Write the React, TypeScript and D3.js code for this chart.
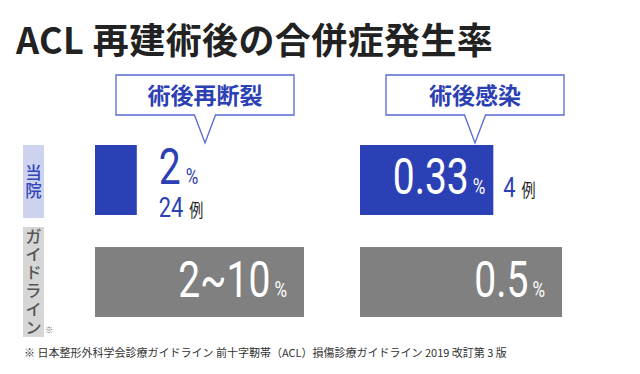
import React from "react";
import * as d3 from "d3";

// complications after ACL reconstruction
const categories = ["術後再断裂", "術後感染"];
const rows = ["当院", "ガイドライン"];
const hospitalValues = [2, 0.33];
const hospitalCases = [24, 4];
const guidelineValues = [10, 0.5];
const guidelineLabels = ["2~10", "0.5"];
const panelMax = [10, 0.5];

const BLUE = "#2c40b5";
const GREY = "#808080";
const NUM_FONT = "Roboto, 'DejaVu Sans', sans-serif";
const JP_FONT = "'Noto Sans CJK JP', 'Noto Sans', sans-serif";
const SQUEEZE = 0.78;

// condensed number + small unit, anchored at (x, y)
function Num({ x, y, value, unit, size, unitSize, fill, anchor = "start", unitFill, unitFont, gap = 4 }: any) {
  return (
    <g transform={`translate(${x},${y}) scale(${SQUEEZE},1)`}>
      <text x={0} y={0} textAnchor={anchor} fontFamily={NUM_FONT} fill={fill}>
        <tspan fontSize={size}>{value}</tspan>
        <tspan fontSize={unitSize} dx={gap / SQUEEZE} fontFamily={unitFont || NUM_FONT} fill={unitFill || fill}>
          {unit}
        </tspan>
      </text>
    </g>
  );
}

export default function App() {
  const width = 640;
  const height = 374;

  const panelX = d3.scaleOrdinal<string, number>().domain(categories).range([95, 360]);
  const panelWidth = [209, 202];
  const bubbleOffset = [110, 115];

  const y = d3.scaleBand().domain(rows).range([145, 317]).paddingInner(0.314).paddingOuter(0);
  const bh = y.bandwidth();

  return (
    <svg width={width} height={height} style={{ position: "absolute", left: 0, top: 0, background: "#fff" }}>
      <text x={16} y={54} fontFamily={JP_FONT} fontWeight={700} fontSize={36} letterSpacing={0.4} fill="#222">
        ACL 再建術後の合併症発生率
      </text>

      {/* row labels, vertical */}
      {rows.map((r, i) => {
        const n = Array.from(r).length;
        const fs = 16.5;
        const ls = 1.7;
        const top = y(r)! + (i === 0 ? 0 : -20);
        const h = i === 0 ? 73 : 110;
        const textTop = top + (h - n * (fs + ls) + ls) / 2;
        return (
          <g key={r}>
            <rect x={23} y={top} width={21} height={h} fill={i === 0 ? "#cdd2ef" : "#d6d6d6"} />
            <text
              x={33.5}
              y={textTop}
              style={{ writingMode: "vertical-rl" }}
              fontFamily={JP_FONT}
              fontWeight={500}
              fontSize={fs}
              letterSpacing={ls}
              fill={i === 0 ? "#3346bb" : "#555"}
            >
              {r}
            </text>
            {i === 1 && (
              <text x={45} y={top + h - 4} fontFamily={JP_FONT} fontSize={8} fill="#555">
                ※
              </text>
            )}
          </g>
        );
      })}

      {categories.map((cat, i) => {
        const x0 = panelX(cat);
        const x = d3.scaleLinear().domain([0, panelMax[i]]).range([0, panelWidth[i]]);
        const cx = x0 + bubbleOffset[i];
        const bw = 178;
        const bTop = 75;
        const bBot = 115;
        const tipY = 143;
        const bubble = d3.path();
        bubble.moveTo(cx - 10.5, bBot);
        bubble.lineTo(cx - bw / 2, bBot);
        bubble.lineTo(cx - bw / 2, bTop);
        bubble.lineTo(cx + bw / 2, bTop);
        bubble.lineTo(cx + bw / 2, bBot);
        bubble.lineTo(cx + 10.5, bBot);
        bubble.lineTo(cx, tipY);
        bubble.closePath();

        const hw = x(hospitalValues[i]);
        const gw = x(guidelineValues[i]);
        const hy = y(rows[0])!;
        const gy = y(rows[1])!;
        const inside = hw > 100;

        return (
          <g key={cat}>
            <path d={bubble.toString()} fill="#fff" stroke="#5468d2" strokeWidth={1.3} />
            <text
              x={cx}
              y={(bTop + bBot) / 2 + 9}
              textAnchor="middle"
              fontFamily={JP_FONT}
              fontWeight={700}
              fontSize={23}
              fill={BLUE}
            >
              {cat}
            </text>

            {/* hospital */}
            <rect x={x0} y={hy} width={hw} height={bh} fill={BLUE} />
            {inside ? (
              <>
                <Num x={x0 + hw - 8} y={hy + 49} value={hospitalValues[i]} unit="%" size={50} unitSize={22} fill="#fff" anchor="end" />
                <Num
                  x={x0 + hw + 10}
                  y={hy + 52}
                  value={hospitalCases[i]}
                  unit="例"
                  size={28}
                  unitSize={18}
                  fill={BLUE}
                  unitFill="#222"
                  unitFont={JP_FONT}
                  gap={6}
                />
              </>
            ) : (
              <>
                <Num x={x0 + hw + 22} y={hy + 39} value={hospitalValues[i]} unit="%" size={50} unitSize={22} fill={BLUE} gap={5} />
                <Num
                  x={x0 + hw + 22}
                  y={hy + 72}
                  value={hospitalCases[i]}
                  unit="例"
                  size={28}
                  unitSize={18}
                  fill={BLUE}
                  unitFill="#222"
                  unitFont={JP_FONT}
                  gap={6}
                />
              </>
            )}

            {/* guideline */}
            <rect x={x0} y={gy} width={gw} height={bh} fill={GREY} />
            <Num x={x0 + gw - 17} y={gy + 50} value={guidelineLabels[i]} unit="%" size={50} unitSize={22} fill="#fff" anchor="end" />
          </g>
        );
      })}

      <text x={24} y={357} fontFamily={JP_FONT} fontSize={11} fill="#333">
        ※ 日本整形外科学会診療ガイドライン 前十字靭帯（ACL）損傷診療ガイドライン 2019 改訂第 3 版
      </text>
    </svg>
  );
}
